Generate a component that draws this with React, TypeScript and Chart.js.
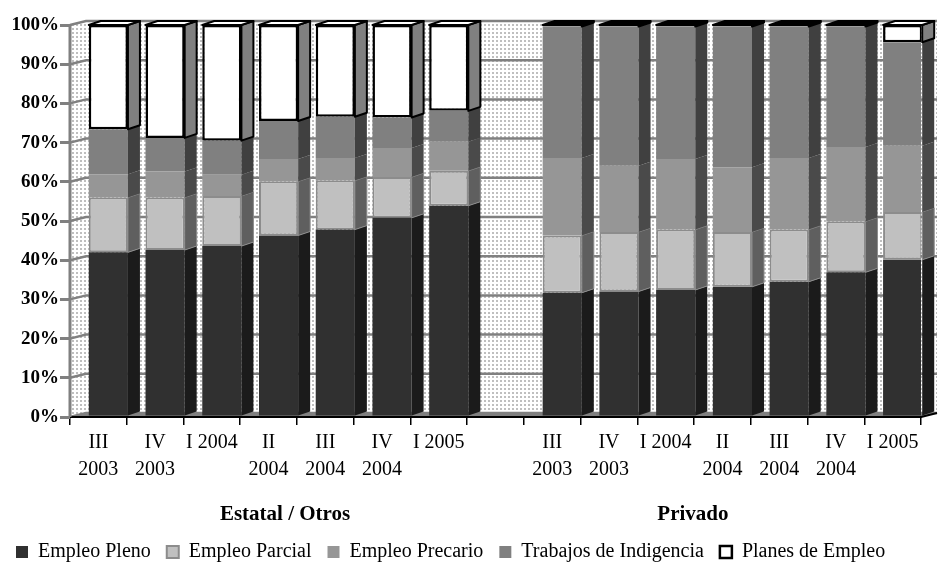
import React, { useEffect, useRef } from 'react';
import { Chart, registerables } from 'chart.js';

Chart.register(...registerables);

// ---------- data ----------
const categories: (string | string[])[] = [
  ['III', '2003'], ['IV', '2003'], 'I 2004', ['II', '2004'], ['III', '2004'], ['IV', '2004'], 'I 2005',
  '',
  ['III', '2003'], ['IV', '2003'], 'I 2004', ['II', '2004'], ['III', '2004'], ['IV', '2004'], 'I 2005',
];
const groupLabels = ['Estatal / Otros', 'Privado'];
const seriesNames = ['Empleo Pleno', 'Empleo Parcial', 'Empleo Precario', 'Trabajos de Indigencia', 'Planes de Empleo'];

const empleoPleno = [42.0, 42.6, 43.6, 46.3, 47.8, 50.8, 53.9, null, 31.7, 32.0, 32.4, 33.2, 34.5, 36.9, 40.1];
const empleoParcial = [14.0, 13.4, 12.8, 13.8, 12.5, 10.4, 8.9, null, 14.6, 15.2, 15.4, 14.0, 13.3, 13.0, 12.2];
const empleoPrecario = [5.9, 6.6, 5.4, 5.7, 5.8, 7.4, 7.4, null, 19.8, 16.9, 18.0, 16.5, 18.3, 19.0, 16.9];
const trabajosIndigencia = [11.5, 8.6, 8.7, 9.7, 10.5, 7.8, 7.9, null, 33.5, 35.5, 33.8, 35.9, 33.5, 30.7, 26.4];
const planesEmpleo = [26.6, 28.8, 29.5, 24.5, 23.4, 23.6, 21.9, null, 0.4, 0.4, 0.4, 0.4, 0.4, 0.4, 4.4];

const yTicks = [0, 10, 20, 30, 40, 50, 60, 70, 80, 90, 100];

// ---------- styles ----------
const FONT = '"Liberation Serif", "Times New Roman", serif';
const frontColors = ['#303030', '#c0c0c0', '#969696', '#808080', '#ffffff'];
const sideColors = ['#1b1b1b', '#5f5f5f', '#4a4a4a', '#404040', '#808080'];
const borderColors = ['#303030', '#8c8c8c', '#969696', '#808080', '#000000'];
const borderWidths = [0, 2, 0, 0, 2.5];
const DX = 12, DY = -4; // bar depth
const WDX = 16, WDY = -4; // wall depth
const SHIFT = 10;

function makePattern(ctx: CanvasRenderingContext2D) {
  const c = document.createElement('canvas');
  c.width = 4; c.height = 4;
  const p = c.getContext('2d')!;
  p.fillStyle = '#ffffff';
  p.fillRect(0, 0, 4, 4);
  p.fillStyle = '#bfbfbf';
  p.fillRect(0, 0, 2, 2);
  return ctx.createPattern(c, 'repeat')!;
}

const threeD = {
  id: 'threeD',
  afterDatasetsUpdate(chart: any) {
    chart.data.datasets.forEach((_: any, i: number) => {
      const meta = chart.getDatasetMeta(i);
      meta.data.forEach((el: any) => { el.x += SHIFT; });
    });
  },
  beforeDraw(chart: any) {
    const { ctx, chartArea } = chart;
    const { left, right, top, bottom } = chartArea;
    const y = chart.scales.y;
    ctx.save();
    ctx.fillStyle = makePattern(ctx);
    // side wall
    ctx.beginPath();
    ctx.moveTo(left, top);
    ctx.lineTo(left + WDX, top + WDY);
    ctx.lineTo(left + WDX, bottom + WDY);
    ctx.lineTo(left, bottom);
    ctx.closePath();
    ctx.fill();
    // back wall
    ctx.fillRect(left + WDX, top + WDY, right - left, bottom - top);
    // gridlines
    ctx.strokeStyle = '#808080';
    ctx.lineWidth = 2.5;
    yTicks.forEach((v) => {
      const yy = y.getPixelForValue(v);
      ctx.beginPath();
      ctx.moveTo(left, yy);
      ctx.lineTo(left + WDX, yy + WDY);
      ctx.lineTo(right + WDX, yy + WDY);
      ctx.stroke();
    });
    // floor
    ctx.fillStyle = '#808080';
    ctx.beginPath();
    ctx.moveTo(left, bottom);
    ctx.lineTo(right, bottom);
    ctx.lineTo(right + WDX, bottom + WDY);
    ctx.lineTo(left + WDX, bottom + WDY);
    ctx.closePath();
    ctx.fill();
    ctx.restore();
  },
  afterDatasetsDraw(chart: any) {
    const { ctx, chartArea } = chart;
    ctx.save();
    const nd = chart.data.datasets.length;
    chart.data.datasets.forEach((ds: any, di: number) => {
      const meta = chart.getDatasetMeta(di);
      meta.data.forEach((el: any, i: number) => {
        const v = ds.data[i];
        if (v == null || v === 0) return;
        const { x, y, base, width } = el.getProps(['x', 'y', 'base', 'width'], true);
        const x0 = x - width / 2;
        const x1 = x + width / 2;
        ctx.beginPath();
        ctx.moveTo(x1, y);
        ctx.lineTo(x1 + DX, y + DY);
        ctx.lineTo(x1 + DX, base + DY);
        ctx.lineTo(x1, base);
        ctx.closePath();
        ctx.fillStyle = sideColors[di];
        ctx.fill();
        if (di === 1) {
          ctx.strokeStyle = '#8c8c8c';
          ctx.lineWidth = 1;
          ctx.stroke();
        }
        if (di === nd - 1) {
          const thin = base - y < 4;
          ctx.strokeStyle = '#000';
          ctx.lineWidth = 2;
          ctx.lineJoin = 'round';
          if (thin) { ctx.fillStyle = '#000'; ctx.fill(); }
          ctx.stroke();
          // top face
          ctx.beginPath();
          ctx.moveTo(x0, y);
          ctx.lineTo(x1, y);
          ctx.lineTo(x1 + DX, y + DY);
          ctx.lineTo(x0 + DX, y + DY);
          ctx.closePath();
          ctx.fillStyle = thin ? '#000' : '#ffffff';
          ctx.fill();
          ctx.stroke();
        }
      });
    });
    // axis line & floor edge
    const { left, right, bottom } = chartArea;
    ctx.strokeStyle = '#000';
    ctx.lineWidth = 2;
    ctx.beginPath();
    ctx.moveTo(left, bottom);
    ctx.lineTo(right, bottom);
    ctx.lineTo(right + WDX, bottom + WDY);
    ctx.stroke();
    ctx.strokeStyle = '#808080';
    ctx.lineWidth = 3;
    ctx.beginPath();
    ctx.moveTo(left, chartArea.top);
    ctx.lineTo(left, bottom);
    ctx.stroke();
    ctx.restore();
  },
  afterDraw(chart: any) {
    const { ctx, chartArea } = chart;
    const xs = chart.scales.x;
    ctx.save();
    ctx.font = `bold 21px ${FONT}`;
    ctx.fillStyle = '#000';
    ctx.textAlign = 'center';
    ctx.textBaseline = 'middle';
    const yy = chartArea.bottom + 98;
    ctx.fillText(groupLabels[0], xs.getPixelForValue(3) + 16.5, yy);
    ctx.fillText(groupLabels[1], xs.getPixelForValue(11) - 29.5, yy);
    ctx.restore();
  },
};

export default function App() {
  const ref = useRef<HTMLCanvasElement>(null);
  useEffect(() => {
    document.body.style.margin = '0';
    const series = [empleoPleno, empleoParcial, empleoPrecario, trabajosIndigencia, planesEmpleo];
    const chart = new Chart(ref.current!, {
      type: 'bar',
      data: {
        labels: categories as any,
        datasets: series.map((d, i) => ({
          label: seriesNames[i],
          data: d as any,
          backgroundColor: frontColors[i],
          borderColor: borderColors[i],
          borderWidth: borderWidths[i],
          borderSkipped: false,
          categoryPercentage: 1,
          barPercentage: 0.69,
        })),
      },
      options: {
        responsive: false,
        animation: false,
        events: [],
        layout: { padding: { left: 0, right: 20, top: 25, bottom: -9 } },
        scales: {
          x: {
            stacked: true,
            offset: true,
            grid: { display: true, offset: true, drawOnChartArea: false, drawTicks: true, tickLength: 8, color: '#000', lineWidth: 1.5 },
            border: { display: false },
            ticks: { color: '#000', font: { family: FONT, size: 20, lineHeight: 1.35 }, padding: 4, maxRotation: 0, autoSkip: false },
            afterFit: (s: any) => { s.height = 109; },
          },
          y: {
            stacked: true,
            min: 0,
            max: 100,
            afterBuildTicks: (s: any) => { s.ticks = yTicks.map((v) => ({ value: v })); },
            grid: { display: true, drawOnChartArea: false, drawTicks: true, tickLength: 10, color: '#808080', lineWidth: 3 },
            border: { display: false },
            ticks: { color: '#000', font: { family: FONT, size: 19, weight: 'bold' }, padding: 1, callback: (v: any) => v + '%' },
            afterFit: (s: any) => { s.width = 70; },
          },
        },
        plugins: {
          tooltip: { enabled: false },
          legend: {
            position: 'bottom',
            align: 'start',
            labels: { color: '#000', font: { family: FONT, size: 20 }, boxWidth: 12, boxHeight: 12, padding: 16 },
          },
        },
      },
      plugins: [threeD],
    } as any);
    return () => chart.destroy();
  }, []);
  return (
    <div style={{ width: 941, height: 563 }}>
      <canvas ref={ref} width={941} height={563} />
    </div>
  );
}
